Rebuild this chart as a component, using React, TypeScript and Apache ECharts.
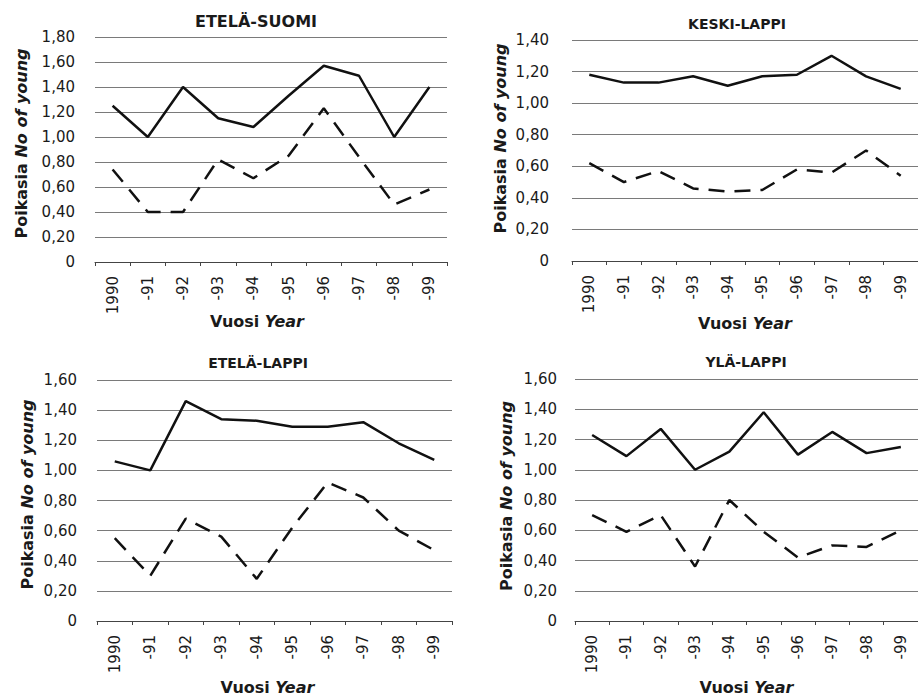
import React, { useEffect, useRef } from 'react';
import * as echarts from 'echarts';

// ---- Data ----
const years = ['1990', '-91', '-92', '-93', '-94', '-95', '-96', '-97', '-98', '-99'];

const etelaSuomiSolid = [1.25, 1.0, 1.4, 1.15, 1.08, 1.33, 1.57, 1.49, 1.0, 1.4];
const etelaSuomiDashed = [0.74, 0.4, 0.4, 0.82, 0.67, 0.85, 1.23, 0.84, 0.46, 0.58];

const keskiLappiSolid = [1.18, 1.13, 1.13, 1.17, 1.11, 1.17, 1.18, 1.3, 1.17, 1.09];
const keskiLappiDashed = [0.62, 0.5, 0.57, 0.46, 0.44, 0.45, 0.58, 0.56, 0.7, 0.54];

const etelaLappiSolid = [1.06, 1.0, 1.46, 1.34, 1.33, 1.29, 1.29, 1.32, 1.18, 1.07];
const etelaLappiDashed = [0.55, 0.3, 0.68, 0.56, 0.28, 0.62, 0.92, 0.82, 0.6, 0.47];

const ylaLappiSolid = [1.23, 1.09, 1.27, 1.0, 1.12, 1.38, 1.1, 1.25, 1.11, 1.15];
const ylaLappiDashed = [0.7, 0.59, 0.7, 0.36, 0.8, 0.59, 0.42, 0.5, 0.49, 0.6];

const panelTitles = ['ETELÄ-SUOMI', 'KESKI-LAPPI', 'ETELÄ-LAPPI', 'YLÄ-LAPPI'];
const yMaxValues = [1.8, 1.4, 1.6, 1.6];
const yTickStep = 0.2;
const xAxisTitle = '{b|Vuosi }{i|Year}';
const yAxisTitle = '{b|Poikasia }{i|No of young}';

const solidSeries = [etelaSuomiSolid, keskiLappiSolid, etelaLappiSolid, ylaLappiSolid];
const dashedSeries = [etelaSuomiDashed, keskiLappiDashed, etelaLappiDashed, ylaLappiDashed];

// ---- Layout / style ----
const FONT = 'DejaVu Sans';
const TEXT = '#1a1a1a';
const layout = [
  { left: 95, top: 37, width: 352, height: 225, labelMargin: 20, yGap: 64, xGap: 49, xShift: -14, yShift: 6, tx: 256, ty: 21, tSize: 16 },
  { left: 572, top: 40, width: 350, height: 221, labelMargin: 23, yGap: 62, xGap: 52, xShift: 0, yShift: 12, tx: 737, ty: 24, tSize: 14 },
  { left: 97, top: 380, width: 355, height: 243, labelMargin: 20, yGap: 60, xGap: 56, xShift: -7, yShift: 6, tx: 258, ty: 363, tSize: 14 },
  { left: 575, top: 379, width: 350, height: 244, labelMargin: 18, yGap: 59, xGap: 56, xShift: 0, yShift: 4, tx: 746, ty: 362, tSize: 14 },
];

const nameRich = {
  b: { fontFamily: FONT, fontSize: 16, fontWeight: 'bold', color: TEXT },
  i: { fontFamily: FONT, fontSize: 16, fontWeight: 'bold', fontStyle: 'italic', color: TEXT },
};

function fmt(v: number) {
  if (v === 0) return '0';
  return v.toFixed(2).replace('.', ',');
}

function buildOption() {
  const grid: any[] = [];
  const xAxis: any[] = [];
  const yAxis: any[] = [];
  const series: any[] = [];
  const graphic: any[] = [];

  layout.forEach((L, i) => {
    grid.push({ left: L.left, top: L.top, width: L.width, height: L.height, containLabel: false });
    xAxis.push({
      type: 'category',
      gridIndex: i,
      data: years,
      boundaryGap: true,
      axisLine: { show: true, lineStyle: { color: '#444', width: 1 } },
      axisTick: { show: true, length: 4, inside: false, lineStyle: { color: '#444' } },
      axisLabel: { rotate: 90, interval: 0, margin: 14, fontFamily: FONT, fontSize: 15, color: TEXT },
      splitLine: { show: false },
      name: xAxisTitle,
      nameLocation: 'middle',
      nameGap: L.xGap,
      nameMoveOverlap: false,
      nameTextStyle: {
        fontFamily: FONT,
        fontSize: 16,
        fontWeight: 'bold',
        color: TEXT,
        lineHeight: 20,
        padding: L.xShift < 0 ? [0, -2 * L.xShift, 0, 0] : [0, 0, 0, 2 * L.xShift],
        rich: nameRich,
      },
    });
    yAxis.push({
      type: 'value',
      gridIndex: i,
      min: 0,
      max: yMaxValues[i],
      interval: yTickStep,
      axisLine: { show: false },
      axisTick: { show: false },
      axisLabel: { margin: L.labelMargin, fontFamily: FONT, fontSize: 15, color: TEXT, formatter: fmt },
      splitLine: { show: true, lineStyle: { color: '#7a7a7a', width: 1 } },
      name: yAxisTitle,
      nameLocation: 'middle',
      nameGap: L.yGap,
      nameMoveOverlap: false,
      nameTextStyle: {
        fontFamily: FONT,
        fontSize: 16,
        fontWeight: 'bold',
        color: TEXT,
        lineHeight: 20,
        padding: [0, 0, 0, 2 * L.yShift],
        rich: nameRich,
      },
    });
    series.push({
      type: 'line',
      name: panelTitles[i] + ' solid',
      xAxisIndex: i,
      yAxisIndex: i,
      data: solidSeries[i],
      symbol: 'none',
      lineStyle: { color: '#111', width: 2.5, type: 'solid' },
    });
    series.push({
      type: 'line',
      name: panelTitles[i] + ' dashed',
      xAxisIndex: i,
      yAxisIndex: i,
      data: dashedSeries[i],
      symbol: 'none',
      lineStyle: { color: '#111', width: 2.5, type: [16, 10], cap: 'butt' },
    });
    graphic.push({
      type: 'text',
      x: L.tx,
      y: L.ty,
      style: {
        text: panelTitles[i],
        fontFamily: FONT,
        fontSize: L.tSize,
        fontWeight: 'bold',
        fill: TEXT,
        align: 'center',
        verticalAlign: 'middle',
      },
    });
  });

  return {
    animation: false,
    backgroundColor: '#ffffff',
    grid,
    xAxis,
    yAxis,
    series,
    graphic,
  };
}

export default function App() {
  const ref = useRef<HTMLDivElement>(null);
  useEffect(() => {
    if (!ref.current) return;
    const chart = echarts.init(ref.current, null, { renderer: 'svg' });
    chart.setOption(buildOption() as any);
    return () => {
      chart.dispose();
    };
  }, []);
  return (
    <div
      ref={ref}
      style={{ position: 'fixed', left: 0, top: 0, width: 918, height: 698, background: '#fff' }}
    />
  );
}
